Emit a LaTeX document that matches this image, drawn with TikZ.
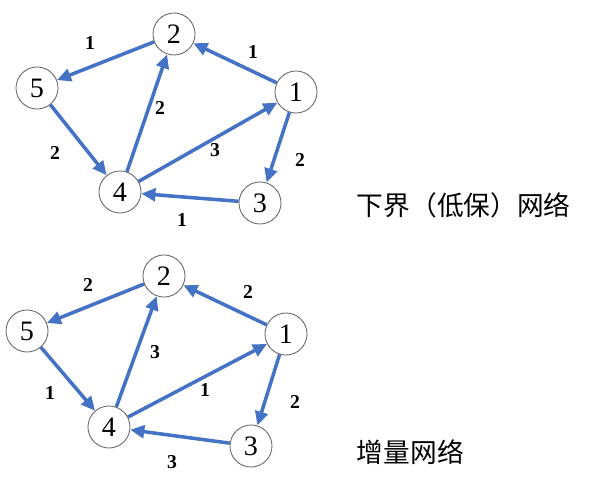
\documentclass[tikz,border=0pt]{standalone}
\usepackage{fontspec}
\setmainfont{Liberation Serif}
\newfontfamily\cjk{Noto Sans CJK SC}
\usepackage{xcolor}
\usetikzlibrary{arrows.meta, positioning}
\definecolor{edgeblue}{RGB}{68,114,196}

\begin{document}
\begin{tikzpicture}[
  x=0.025cm, y=-0.025cm,
  vertex/.style={draw=black!60, line width=0.6pt, circle, minimum size=1.05cm, inner sep=0pt, fill=white, font=\fontsize{20}{22}\selectfont},
  arc/.style={draw=edgeblue, line width=2.5pt, -{Triangle[length=10pt, width=9pt]}},
  wt/.style={font=\fontsize{14}{16}\selectfont\bfseries},
  title/.style={font=\cjk\fontsize{19}{22}\selectfont, anchor=west},
]
\fill[white] (0,0) rectangle (594,480);
\useasboundingbox (0,0) rectangle (594,480);

% Lower-bound network
\node[vertex] (a2) at (174,34) {2};
\node[vertex] (a5) at (37,88) {5};
\node[vertex] (a1) at (296,92) {1};
\node[vertex] (a4) at (120,192) {4};
\node[vertex] (a3) at (260,203) {3};

\draw[arc] (a2) -- (a5);
\draw[arc] (a1) -- (a2);
\draw[arc] (a4) -- (a2);
\draw[arc] (a4) -- (a1);
\draw[arc] (a5) -- (a4);
\draw[arc] (a1) -- (a3);
\draw[arc] (a3) -- (a4);

\node[wt] (wa25) at (90,43) {1};
\node[wt] (wa12) at (253,52) {1};
\node[wt] (wa42) at (160,108) {2};
\node[wt] (wa54) at (55,153) {2};
\node[wt] (wa41) at (215,150) {3};
\node[wt] (wa13) at (300,160) {2};
\node[wt] (wa34) at (182,220) {1};

\node[title] (ta) at (352,205) {下界（低保）网络};

% Incremental network
\node[vertex] (b2) at (164,276) {2};
\node[vertex] (b5) at (27,331) {5};
\node[vertex] (b1) at (286,334) {1};
\node[vertex] (b4) at (109,427) {4};
\node[vertex] (b3) at (251,446) {3};

\draw[arc] (b2) -- (b5);
\draw[arc] (b1) -- (b2);
\draw[arc] (b4) -- (b2);
\draw[arc] (b4) -- (b1);
\draw[arc] (b5) -- (b4);
\draw[arc] (b1) -- (b3);
\draw[arc] (b3) -- (b4);

\node[wt] (wb25) at (88,285) {2};
\node[wt] (wb12) at (248,292) {2};
\node[wt] (wb42) at (155,352) {3};
\node[wt] (wb54) at (50,393) {1};
\node[wt] (wb41) at (205,390) {1};
\node[wt] (wb13) at (295,402) {2};
\node[wt] (wb34) at (172,462) {3};

\node[title] (tb) at (352,452) {增量网络};
\end{tikzpicture}
\end{document}
